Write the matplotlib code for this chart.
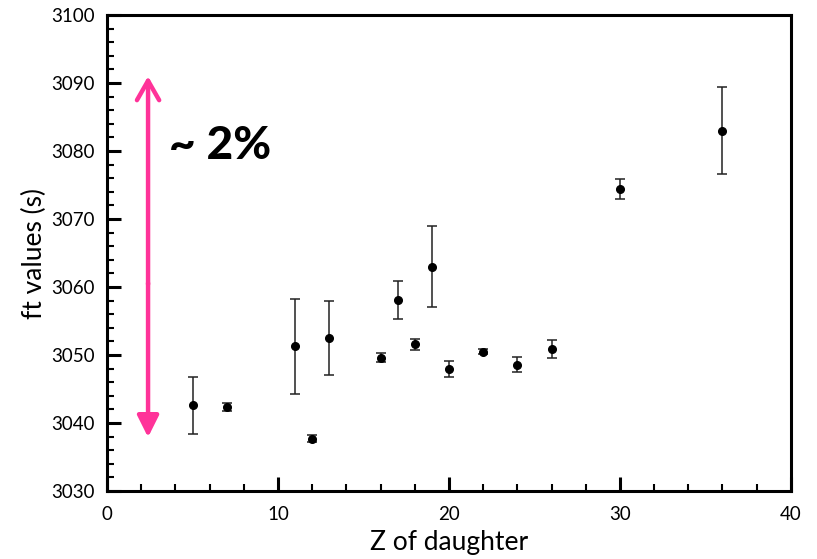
import matplotlib.pyplot as plt
from matplotlib.ticker import MultipleLocator

# Z of daughter nucleus and ft values (s) with uncertainties
z = [5, 7, 11, 12, 13, 16, 17, 18, 19, 20, 22, 24, 26, 30, 36]
ft = [3042.6, 3042.4, 3051.3, 3037.7, 3052.5, 3049.6, 3058.1, 3051.6,
      3063.0, 3047.9, 3050.5, 3048.6, 3050.9, 3074.4, 3083.0]
ft_err = [4.2, 0.6, 7.0, 0.5, 5.5, 0.7, 2.75, 0.8,
          6.0, 1.2, 0.4, 1.1, 1.3, 1.45, 6.45]

pink = '#ff3399'

plt.rcParams['font.family'] = ['Lato', 'DejaVu Sans']

fig = plt.figure(figsize=(8.17, 5.59), dpi=100)
ax = fig.add_axes([0.131, 0.1216, 0.837, 0.8516])

ax.errorbar(z, ft, yerr=ft_err, fmt='o', color='black', ms=5.5,
            ecolor='#222222', elinewidth=1.1, capsize=3.5, capthick=1.1)

ax.set_xlim(0, 40)
ax.set_ylim(3030, 3100)
ax.xaxis.set_major_locator(MultipleLocator(10))
ax.xaxis.set_minor_locator(MultipleLocator(2))
ax.yaxis.set_major_locator(MultipleLocator(10))
ax.yaxis.set_minor_locator(MultipleLocator(2))
ax.tick_params(which='both', direction='in', top=False, right=False,
               width=1.5, labelsize=13.5)
ax.tick_params(axis='x', pad=11)
ax.tick_params(axis='y', pad=9)
ax.tick_params(which='major', length=10, width=2.2)
ax.tick_params(which='minor', length=5)
for s in ax.spines.values():
    s.set_linewidth(2.2)

ax.set_xlabel('Z of daughter', fontsize=19, labelpad=5)
ax.set_ylabel('ft values (s)', fontsize=19, labelpad=3)

# the ~2 % band arrow
ax.annotate('', xy=(2.4, 3091.4), xytext=(2.4, 3060),
            arrowprops=dict(arrowstyle='->,head_length=1.4,head_width=0.8',
                            color=pink, lw=3.2))
ax.annotate('', xy=(2.4, 3037.5), xytext=(2.4, 3061),
            arrowprops=dict(arrowstyle='-|>,head_length=1.3,head_width=0.65',
                            color=pink, lw=3.2))
ax.text(3.6, 3080.8, '~ 2%', fontsize=33, fontweight='black', va='center')

fig.savefig('out.png', dpi=100)
